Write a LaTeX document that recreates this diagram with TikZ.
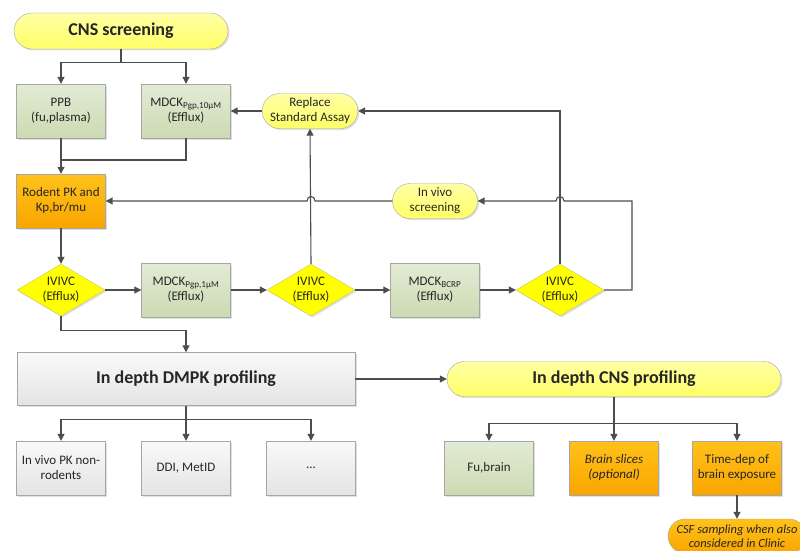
\documentclass[tikz,border=0pt]{standalone}
\usepackage{fontspec}
\setmainfont{Carlito}
\usetikzlibrary{shapes.geometric,shapes.misc,arrows.meta,shadows}

\definecolor{boxline}{HTML}{A6A6A6}
\definecolor{conn}{HTML}{4D4D4D}
\definecolor{txt}{HTML}{262626}
\definecolor{pillTop}{HTML}{FFFFA6}
\definecolor{pillBot}{HTML}{FFFF66}
\definecolor{greenTop}{HTML}{E3EBD5}
\definecolor{greenBot}{HTML}{CCDAB2}
\definecolor{orangeTop}{HTML}{FFC21A}
\definecolor{orangeBot}{HTML}{FAA500}
\definecolor{grayTop}{HTML}{F9F9F9}
\definecolor{grayBot}{HTML}{E4E4E4}
\definecolor{diaFill}{HTML}{FFFF00}
\definecolor{diaLine}{HTML}{C8C860}

\tikzset{
  base/.style={draw=boxline, align=center, inner sep=2pt, text=txt,
    font=\fontsize{13}{15}\selectfont,
    drop shadow={opacity=0.25, shadow xshift=1.5pt, shadow yshift=-1.5pt}},
  greenbox/.style={base, top color=greenTop, bottom color=greenBot,
    minimum width=89pt, minimum height=54pt},
  orangebox/.style={base, top color=orangeTop, bottom color=orangeBot,
    minimum width=89pt, minimum height=54pt},
  graybox/.style={base, top color=grayTop, bottom color=grayBot,
    minimum width=89pt, minimum height=54pt},
  pill/.style={base, rounded rectangle, top color=pillTop, bottom color=pillBot,
    minimum width=89pt, minimum height=35pt},
  bigpill/.style={pill, font=\bfseries\fontsize{18}{20}\selectfont},
  ivivc/.style={base, diamond, aspect=1.7, inner sep=0pt, fill=diaFill, draw=diaLine,
    minimum width=88pt, minimum height=52pt, drop shadow={opacity=0}},
  arr/.style={draw=conn, line width=1.1pt, -{Triangle[length=7pt,width=7pt]}},
  ln/.style={draw=conn, line width=1.1pt}
}

\begin{document}
\begin{tikzpicture}[x=1pt,y=-1pt]
\useasboundingbox (0,0) rectangle (800,551);

% screening level
\node[bigpill, minimum width=218pt, minimum height=36pt] (cns) at (121,31) {CNS screening};
\node[greenbox] (ppb) at (61,111) {PPB\\(fu,plasma)};
\node[greenbox] (mdckten) at (186,111) {MDCK\textsubscript{Pgp,10µM}\\(Efflux)};
\node[pill] (replace) at (310,111) {Replace\\Standard Assay};
\node[orangebox] (rodent) at (61,201) {Rodent PK and\\Kp,br/mu};
\node[pill] (vivo) at (435,201) {In vivo\\screening};

% IVIVC row
\node[ivivc] (ivivcA) at (61,290) {IVIVC\\(Efflux)};
\node[greenbox] (mdckone) at (186,290) {MDCK\textsubscript{Pgp,1µM}\\(Efflux)};
\node[ivivc] (ivivcB) at (311,290) {IVIVC\\(Efflux)};
\node[greenbox] (mdckbcrp) at (435,290) {MDCK\textsubscript{BCRP}\\(Efflux)};
\node[ivivc] (ivivcC) at (560,290) {IVIVC\\(Efflux)};

% in depth profiling
\node[graybox, minimum width=338pt, minimum height=53pt,
  font=\bfseries\fontsize{18}{20}\selectfont] (dmpk) at (186,379) {In depth DMPK profiling};
\node[bigpill, minimum width=338pt] (cnsprof) at (614,379) {In depth CNS profiling};
\node[graybox] (nonrod) at (61,468) {In vivo PK non-\\rodents};
\node[graybox] (ddi) at (186,468) {DDI, MetID};
\node[graybox] (dots) at (311,468) {...};
\node[greenbox] (fubrain) at (489,468) {Fu,brain};
\node[orangebox, font=\itshape\fontsize{13}{15}\selectfont] (slices) at (614,468) {Brain slices\\(optional)};
\node[orangebox] (timedep) at (737,468) {Time-dep of\\brain exposure};
\node[base, rounded rectangle, top color=orangeTop, bottom color=orangeBot,
  minimum width=140pt, minimum height=34pt, inner sep=1pt,
  font=\itshape\fontsize{12.5}{14}\selectfont] (csf) at (737,536) {CSF sampling when also\\considered in Clinic};

% connectors
\coordinate (jA) at (61,160);
\coordinate (fb) at (632,201);
\draw[arr] (cns.south) -- ++(0,13) -| (ppb.north);
\draw[arr] (cns.south) -- ++(0,13) -| (mdckten.north);
\draw[arr] (ppb) -- (rodent);
\draw[ln] (mdckten.south) |- (jA);
\draw[arr] (replace) -- (mdckten);
\draw[arr] (vivo.west) -- (315,201) .. controls (315,195) and (307,195) .. (307,201) -- (rodent.east);
\draw[arr] (rodent) -- (ivivcA);
\draw[arr] (ivivcA) -- (mdckone);
\draw[arr] (mdckone) -- (ivivcB);
\draw[arr] (ivivcB) -- (mdckbcrp);
\draw[arr] (mdckbcrp) -- (ivivcC);
\draw[arr] (ivivcB.north) -- (replace.south);
\draw[arr] (ivivcC.north) |- (replace.east);
\draw[arr] (ivivcC.east) -| (fb) -- (564,201) .. controls (564,195) and (556,195) .. (556,201) -- (vivo.east);
\draw[arr] (ivivcA.south) -- ++(0,14) -| (dmpk.north);
\draw[arr] (dmpk) -- (cnsprof);
\draw[arr] (dmpk.south) -- ++(0,14) -| (nonrod.north);
\draw[arr] (dmpk.south) -- (ddi.north);
\draw[arr] (dmpk.south) -- ++(0,14) -| (dots.north);
\draw[arr] (cnsprof.south) -- ++(0,27) -| (fubrain.north);
\draw[arr] (cnsprof.south) -- (slices.north);
\draw[arr] (cnsprof.south) -- ++(0,27) -| (timedep.north);
\draw[arr] (timedep) -- (csf);
\end{tikzpicture}
\end{document}
